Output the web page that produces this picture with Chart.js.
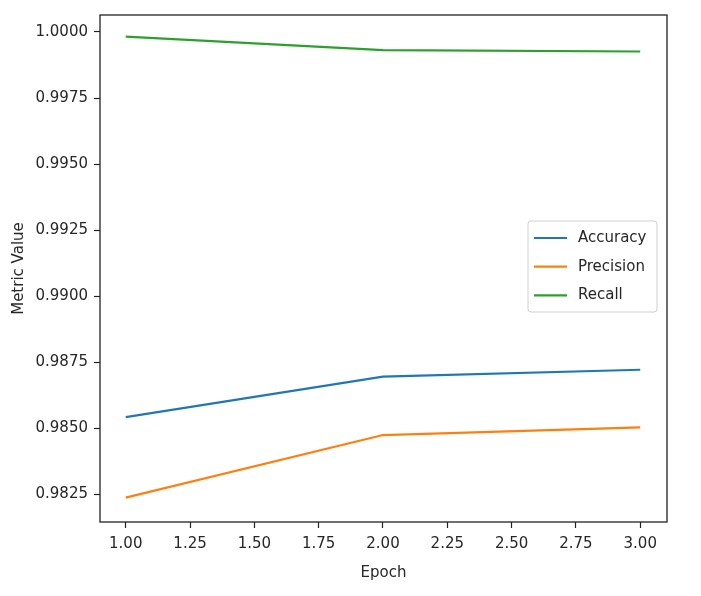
<!DOCTYPE html>
<html>
<head>
<meta charset="utf-8">
<script src="https://cdn.jsdelivr.net/npm/chart.js@4.4.1/dist/chart.umd.min.js"></script>
<style>
html,body{margin:0;padding:0;background:#fff;}
canvas{display:block;}
</style>
</head>
<body>
<canvas id="c" width="701" height="596"></canvas>
<script>
const epochs = [1, 2, 3];
const accuracy = [0.98543, 0.98696, 0.98722];
const precision = [0.98238, 0.98475, 0.98504];
const recall = [0.99982, 0.99931, 0.99926];
const xTicks = [1.00, 1.25, 1.50, 1.75, 2.00, 2.25, 2.50, 2.75, 3.00];
const yTicks = [0.9825, 0.9850, 0.9875, 0.9900, 0.9925, 0.9950, 0.9975, 1.0000];
const seriesNames = ['Accuracy', 'Precision', 'Recall'];
const seriesColors = ['#1f77b4', '#ff7f0e', '#2ca02c'];
const seriesValues = [accuracy, precision, recall];

const FONT = 'DejaVu Sans';
const TXT = '#262626';

const bgPlugin = {
  id: 'bg',
  beforeDraw(chart) {
    const ctx = chart.ctx;
    ctx.save();
    ctx.fillStyle = '#fff';
    ctx.fillRect(0, 0, chart.width, chart.height);
    ctx.restore();
  }
};

const framePlugin = {
  id: 'frame',
  afterDatasetsDraw(chart) {
    const a = chart.chartArea, ctx = chart.ctx;
    ctx.save();
    ctx.strokeStyle = '#222';
    ctx.lineWidth = 1.3;
    ctx.strokeRect(a.left, a.top, a.right - a.left, a.bottom - a.top);
    ctx.restore();
  }
};

const legendPlugin = {
  id: 'mplLegend',
  afterDraw(chart) {
    const ctx = chart.ctx;
    const x0 = 528, y0 = 221, w = 129, h = 91;
    ctx.save();
    ctx.fillStyle = 'rgba(255,255,255,0.85)';
    ctx.strokeStyle = '#d0d0d0';
    ctx.lineWidth = 1;
    const r = 3;
    ctx.beginPath();
    ctx.moveTo(x0 + r, y0);
    ctx.lineTo(x0 + w - r, y0);
    ctx.quadraticCurveTo(x0 + w, y0, x0 + w, y0 + r);
    ctx.lineTo(x0 + w, y0 + h - r);
    ctx.quadraticCurveTo(x0 + w, y0 + h, x0 + w - r, y0 + h);
    ctx.lineTo(x0 + r, y0 + h);
    ctx.quadraticCurveTo(x0, y0 + h, x0, y0 + h - r);
    ctx.lineTo(x0, y0 + r);
    ctx.quadraticCurveTo(x0, y0, x0 + r, y0);
    ctx.closePath();
    ctx.fill();
    ctx.stroke();
    ctx.font = '15px "' + FONT + '"';
    ctx.textBaseline = 'middle';
    ctx.textAlign = 'left';
    chart.data.datasets.forEach((ds, i) => {
      const y = 238 + i * 28.7;
      ctx.strokeStyle = ds.borderColor;
      ctx.lineWidth = 2.2;
      ctx.beginPath();
      ctx.moveTo(534, y);
      ctx.lineTo(567, y);
      ctx.stroke();
      ctx.fillStyle = TXT;
      ctx.fillText(ds.label, 578, y);
    });
    ctx.restore();
  }
};

new Chart(document.getElementById('c'), {
  type: 'line',
  data: {
    datasets: seriesNames.map((name, i) => ({
      label: name,
      data: epochs.map((e, j) => ({ x: e, y: seriesValues[i][j] })),
      borderColor: seriesColors[i],
      backgroundColor: seriesColors[i],
      borderWidth: 2.2,
      pointRadius: 0,
      tension: 0,
      fill: false
    }))
  },
  options: {
    responsive: false,
    animation: false,
    devicePixelRatio: 1,
    layout: { padding: { left: 0, top: 11, right: 34, bottom: 0 } },
    plugins: {
      legend: { display: false },
      tooltip: { enabled: false }
    },
    scales: {
      x: {
        type: 'linear',
        min: 0.9,
        max: 3.104,
        afterBuildTicks: s => { s.ticks = xTicks.map(v => ({ value: v })); },
        afterFit: s => { s.height = 74; },
        grid: { drawOnChartArea: false, drawTicks: true, tickLength: 6, tickColor: '#222', tickWidth: 1.2 },
        border: { display: false },
        ticks: {
          color: TXT,
          font: { family: FONT, size: 15 },
          padding: 7,
          maxRotation: 0,
          autoSkip: false,
          callback: v => Number(v).toFixed(2)
        },
        title: {
          display: true,
          text: 'Epoch',
          color: TXT,
          font: { family: FONT, size: 15 },
          padding: { top: 4, bottom: 14 }
        }
      },
      y: {
        type: 'linear',
        min: 0.98146,
        max: 1.00064,
        afterBuildTicks: s => { s.ticks = yTicks.map(v => ({ value: v })); },
        afterFit: s => { s.width = 100; },
        grid: { drawOnChartArea: false, drawTicks: true, tickLength: 6, tickColor: '#222', tickWidth: 1.2 },
        border: { display: false },
        ticks: {
          color: TXT,
          font: { family: FONT, size: 15 },
          padding: 6,
          autoSkip: false,
          callback: v => Number(v).toFixed(4)
        },
        title: {
          display: true,
          text: 'Metric Value',
          color: TXT,
          font: { family: FONT, size: 15 },
          padding: { top: 10, bottom: 4 }
        }
      }
    }
  },
  plugins: [bgPlugin, framePlugin, legendPlugin]
});
</script>
</body>
</html>
